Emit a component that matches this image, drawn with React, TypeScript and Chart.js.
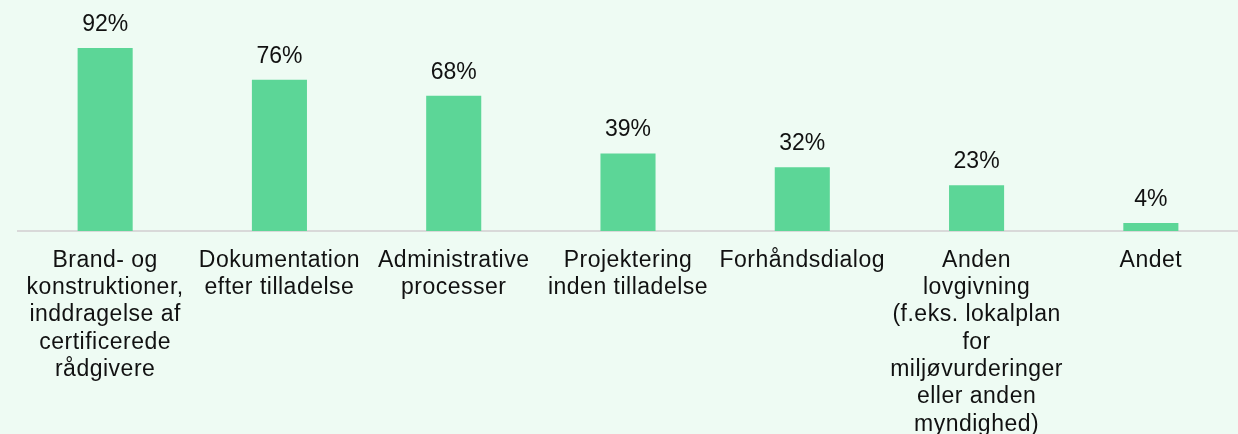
import React, { useEffect, useRef } from "react";
import { Chart, registerables } from "chart.js";

Chart.register(...registerables);

const categories: string[] = [
  "Brand- og\nkonstruktioner,\ninddragelse af\ncertificerede\nrådgivere",
  "Dokumentation\nefter tilladelse",
  "Administrative\nprocesser",
  "Projektering\ninden tilladelse",
  "Forhåndsdialog",
  "Anden\nlovgivning\n(f.eks. lokalplan\nfor\nmiljøvurderinger\neller anden\nmyndighed)",
  "Andet",
];

const values: number[] = [92, 76, 68, 39, 32, 23, 4];

const BG = "#eefbf3";
const BAR = "#5cd697";
const FONT = "'Liberation Sans', Arial, sans-serif";
const CANVAS_H = 438;
const AXIS_H = 207;

const spacing = {
  id: "spacing",
  beforeUpdate(chart: any) {
    chart.ctx.letterSpacing = "0.5px";
  },
  beforeDraw(chart: any) {
    chart.ctx.letterSpacing = "0.5px";
  },
};

const valueLabels = {
  id: "valueLabels",
  afterDatasetsDraw(chart: any) {
    const ctx = chart.ctx;
    const meta = chart.getDatasetMeta(0);
    ctx.save();
    ctx.letterSpacing = "0px";
    ctx.font = `23px ${FONT}`;
    ctx.fillStyle = "#111111";
    ctx.textAlign = "center";
    ctx.textBaseline = "alphabetic";
    meta.data.forEach((el: any, i: number) => {
      ctx.fillText(`${values[i]}%`, el.x, el.y - 17);
    });
    ctx.restore();
  },
};

export default function App() {
  const ref = useRef<HTMLCanvasElement | null>(null);

  useEffect(() => {
    if (!ref.current) return;
    const chart = new Chart(ref.current, {
      type: "bar",
      data: {
        labels: categories.map((c) => c.split("\n")),
        datasets: [
          {
            data: values,
            backgroundColor: BAR,
            borderWidth: 0,
            categoryPercentage: 1,
            barPercentage: 0.316,
          },
        ],
      },
      options: {
        animation: false,
        responsive: false,
        maintainAspectRatio: false,
        layout: { padding: { top: 32, left: 18, right: 0, bottom: 0 } },
        plugins: {
          legend: { display: false },
          tooltip: { enabled: false },
        },
        scales: {
          x: {
            grid: { display: false },
            border: { display: true, color: "#d9d9d9", width: 2 },
            afterFit: (scale: any) => {
              scale.height = AXIS_H;
            },
            ticks: {
              autoSkip: false,
              maxRotation: 0,
              minRotation: 0,
              padding: 7.5,
              color: "#111111",
              font: { family: FONT, size: 23, lineHeight: 1.19 },
            },
          },
          y: {
            display: false,
            min: 0,
            max: 100,
          },
        },
      },
      plugins: [spacing, valueLabels],
    });
    return () => chart.destroy();
  }, []);

  return (
    <div
      style={{
        position: "fixed",
        left: 0,
        top: 0,
        width: 1238,
        height: 434,
        overflow: "hidden",
        background: BG,
      }}
    >
      <canvas ref={ref} width={1238} height={CANVAS_H} style={{ display: "block", width: 1238, height: CANVAS_H }} />
    </div>
  );
}
